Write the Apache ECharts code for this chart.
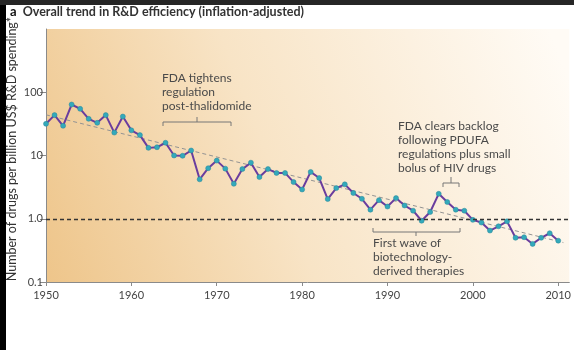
<!DOCTYPE html>
<html>
<head>
<meta charset="utf-8">
<style>
  html, body { margin: 0; padding: 0; background: #fff; }
  #chart { width: 574px; height: 350px; }
</style>
<script src="https://cdn.jsdelivr.net/npm/echarts@6/dist/echarts.min.js"></script>
</head>
<body>
<div id="chart"></div>
<script>
  // 年份与每十亿美元研发支出获批药物数
  const years = [1950, 1951, 1952, 1953, 1954, 1955, 1956, 1957, 1958, 1959,
    1960, 1961, 1962, 1963, 1964, 1965, 1966, 1967, 1968, 1969,
    1970, 1971, 1972, 1973, 1974, 1975, 1976, 1977, 1978, 1979,
    1980, 1981, 1982, 1983, 1984, 1985, 1986, 1987, 1988, 1989,
    1990, 1991, 1992, 1993, 1994, 1995, 1996, 1997, 1998, 1999,
    2000, 2001, 2002, 2003, 2004, 2005, 2006, 2007, 2008, 2009, 2010]
  const drugsPerBillion = [31.7, 43.5, 29.5, 64, 54.7, 38, 32.9, 43.5, 23, 41.3,
    25, 21, 13.2, 13.5, 15.9, 10, 9.9, 12, 4.2, 6.3,
    8.3, 6.2, 3.57, 6.1, 7.7, 4.56, 6.1, 5.3, 5.3, 3.8,
    2.9, 5.5, 4.4, 2.05, 3.05, 3.5, 2.55, 2.07, 1.39, 1.97,
    1.56, 2.12, 1.62, 1.34, 0.93, 1.28, 2.48, 1.84, 1.39, 1.34,
    0.96, 0.87, 0.65, 0.76, 0.91, 0.50, 0.51, 0.40, 0.50, 0.59, 0.45]
  // 趋势线两端
  const trendYears = [1950, 2010.6]
  const trendValues = [44, 0.42]
  const xTicks = [1950, 1960, 1970, 1980, 1990, 2000, 2010]
  const yTickValues = [0.1, 1, 10, 100]
  const yTickLabels = ['0.1', '1.0', '10', '100']

  const font = 'Lato, "Open Sans", sans-serif'
  const textGray = '#4a4a4a'

  const chart = echarts.init(document.getElementById('chart'))
  chart.setOption({
    animation: false,
    textStyle: { fontFamily: font },
    grid: {
      left: 46, right: 0, top: 29, bottom: 68,
      show: true,
      borderWidth: 0,
      backgroundColor: new echarts.graphic.LinearGradient(0, 1, 1, 0.2, [
        { offset: 0, color: '#eec58a' },
        { offset: 0.45, color: '#f8e4c6' },
        { offset: 1, color: '#fffbf5' }
      ])
    },
    xAxis: {
      type: 'value',
      min: 1950,
      max: 2011.3,
      interval: 10,
      axisLine: { show: true, lineStyle: { color: '#8a8a8a', width: 1 } },
      axisTick: { show: true, length: 4, customValues: xTicks, lineStyle: { color: '#8a8a8a' } },
      axisLabel: {
        color: '#444', fontSize: 11, margin: 8,
        customValues: xTicks,
        formatter: v => String(v)
      },
      splitLine: { show: false }
    },
    yAxis: {
      type: 'log',
      logBase: 10,
      min: 0.1,
      max: 1000,
      axisLine: { show: true, lineStyle: { color: '#8a8a8a', width: 1 } },
      axisTick: { show: true, length: 6, customValues: yTickValues, lineStyle: { color: '#8a8a8a' } },
      axisLabel: {
        color: '#444', fontSize: 11, margin: 3,
        customValues: yTickValues,
        formatter: v => yTickLabels[yTickValues.findIndex(t => Math.abs(t - v) < t * 1e-6)] || ''
      },
      splitLine: { show: false }
    },
    series: [
      { // 趋势虚线
        type: 'line',
        data: trendYears.map((y, i) => [y, trendValues[i]]),
        symbol: 'none',
        lineStyle: { color: '#939393', width: 1, type: [4, 3] },
        z: 2
      },
      { // 主折线
        type: 'line',
        data: years.map((y, i) => [y, drugsPerBillion[i]]),
        symbol: 'circle',
        symbolSize: 5,
        lineStyle: { color: '#6a3d9e', width: 2 },
        itemStyle: { color: '#33a9bb', borderColor: '#2a8796', borderWidth: 0.5 },
        z: 3,
        markLine: {
          silent: true,
          symbol: 'none',
          label: { show: false },
          lineStyle: { color: '#333', width: 1.3, type: [4, 3] },
          data: [{ yAxis: 1 }]
        }
      }
    ],
    graphic: [
      // 顶部深色条和左侧黑边
      { type: 'rect', shape: { x: 0, y: 0, width: 574, height: 5 }, style: { fill: '#262626' } },
      { type: 'rect', shape: { x: 0, y: 5, width: 6, height: 345 }, style: { fill: '#000' } },
      {
        type: 'text', left: 10, top: 5,
        style: {
          text: '{a|a}  Overall trend in R&D efficiency (inflation-adjusted)',
          rich: {
            a: { fontWeight: 'bold', fontSize: 13, fill: '#111', fontFamily: font }
          },
          fontWeight: 'bold', fontSize: 12.5, fill: '#333', fontFamily: font
        }
      },
      {
        type: 'text', x: 12, y: 149, rotation: Math.PI / 2,
        style: {
          text: 'Number of drugs per billion US$ R&D spending*',
          align: 'center', verticalAlign: 'middle',
          fontSize: 12.5, fill: '#333', fontFamily: font
        }
      },
      // 注释文字
      {
        type: 'text', x: 162, y: 71,
        style: { text: 'FDA tightens\nregulation\npost-thalidomide', fontSize: 12, lineHeight: 14, fill: textGray, fontFamily: font }
      },
      {
        type: 'text', x: 398, y: 119,
        style: { text: 'FDA clears backlog\nfollowing PDUFA\nregulations plus small\nbolus of HIV drugs', fontSize: 12, lineHeight: 14, fill: textGray, fontFamily: font }
      },
      {
        type: 'text', x: 373, y: 236,
        style: { text: 'First wave of\nbiotechnology-\nderived therapies', fontSize: 12, lineHeight: 14, fill: textGray, fontFamily: font }
      },
      // 括号
      { type: 'polyline', shape: { points: [[163, 126], [163, 122], [231, 122], [231, 126]] }, style: { stroke: '#777', lineWidth: 1, fill: null } },
      { type: 'polyline', shape: { points: [[197, 122], [197, 117]] }, style: { stroke: '#777', lineWidth: 1, fill: null } },
      { type: 'polyline', shape: { points: [[443, 187], [443, 183], [459, 183], [459, 187]] }, style: { stroke: '#777', lineWidth: 1, fill: null } },
      { type: 'polyline', shape: { points: [[451, 183], [451, 177]] }, style: { stroke: '#777', lineWidth: 1, fill: null } },
      { type: 'polyline', shape: { points: [[373, 228], [373, 232], [460, 232], [460, 228]] }, style: { stroke: '#777', lineWidth: 1, fill: null } },
      { type: 'polyline', shape: { points: [[416, 232], [416, 236]] }, style: { stroke: '#777', lineWidth: 1, fill: null } }
    ]
  })
</script>
</body>
</html>
